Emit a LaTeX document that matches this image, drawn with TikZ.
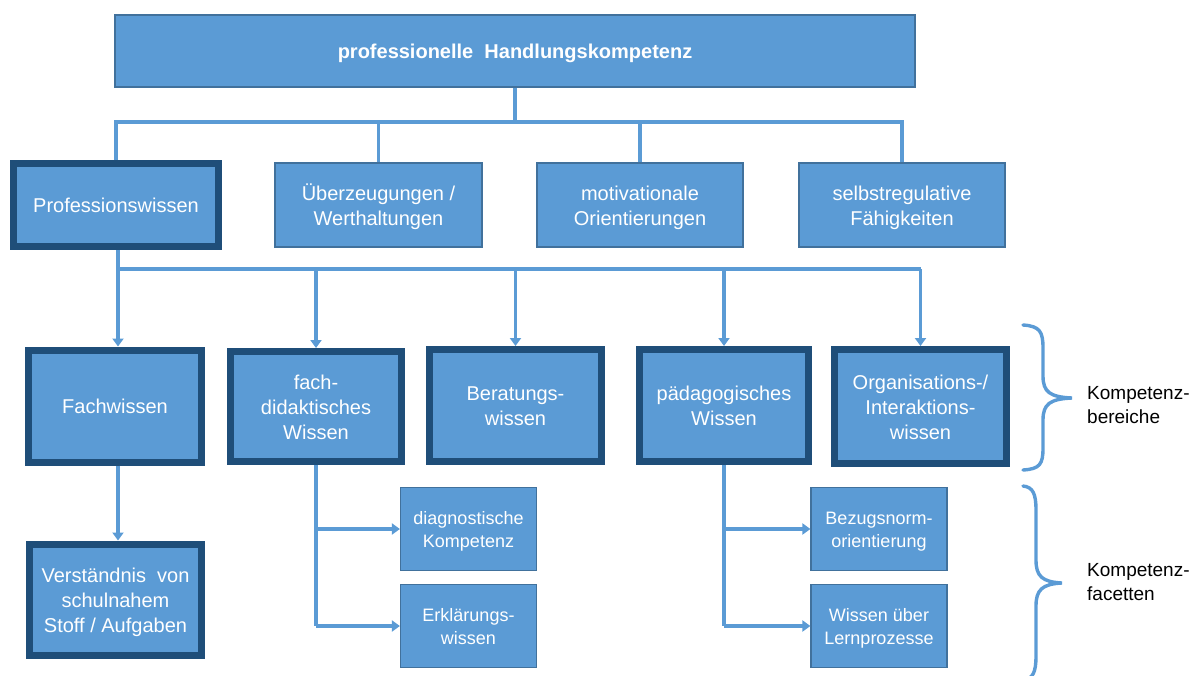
\documentclass[tikz,border=0pt]{standalone}
\usepackage{fontspec}
\setmainfont{Liberation Sans}
\usetikzlibrary{arrows.meta}
\definecolor{boxblue}{HTML}{5B9BD5}
\definecolor{boxedge}{HTML}{41719C}
\definecolor{darkedge}{HTML}{1F4E79}
\definecolor{linkblue}{HTML}{5B9BD5}
% line struts: every text line gets the same height and depth
\newcommand\Ln{\rule[-5pt]{0pt}{25pt}}
\newcommand\Ls{\rule[-5pt]{0pt}{23.5pt}}
\tikzset{
  basebox/.style={rectangle, fill=boxblue, text=white, align=center, inner sep=0pt,
    font=\fontsize{20}{25}\selectfont},
  plainbox/.style={basebox, draw=boxedge, line width=1.2pt},
  thickbox/.style={basebox, draw=darkedge, line width=7pt},
  smallbox/.style={plainbox, font=\fontsize{18}{23.5}\selectfont,
    minimum width=136pt, minimum height=83pt},
  conn/.style={draw=linkblue, line width=3.6pt},
  arr/.style={conn, -{Triangle[width=11pt,length=8pt]}},
  bracket/.style={draw=linkblue, line width=3.4pt, line cap=round},
  sidelabel/.style={anchor=west, align=left, inner sep=0pt,
    font=\fontsize{19}{24}\selectfont}
}
\begin{document}
\begin{tikzpicture}[x=1pt, y=-1pt]
\useasboundingbox (0,0) rectangle (1197,675);
\begin{scope}
\clip (0,0) rectangle (1197,675);

% top level
\node[plainbox, minimum width=800pt, minimum height=72pt,
      font=\fontsize{20}{25}\selectfont\bfseries] (top) at (515,51)
  {\Ln professionelle\ \ Handlungskompetenz};

% second row
\node[thickbox, minimum width=205pt, minimum height=83pt] (pw) at (116,205) {\Ln Professionswissen};
\node[plainbox, minimum width=207pt, minimum height=84pt] (ub) at (378.5,205) {\Ln Überzeugungen /\\\Ln Werthaltungen};
\node[plainbox, minimum width=206pt, minimum height=84pt] (mo) at (640,205) {\Ln motivationale\\\Ln Orientierungen};
\node[plainbox, minimum width=206pt, minimum height=84pt] (sr) at (902,205) {\Ln selbstregulative\\\Ln Fähigkeiten};

% third row: Kompetenzbereiche
\node[thickbox, minimum width=173pt, minimum height=112pt] (fw) at (115,406) {\Ln Fachwissen};
\node[thickbox, minimum width=171pt, minimum height=110pt] (fd) at (316,406.5) {\Ln fach-\\\Ln didaktisches\\\Ln Wissen};
\node[thickbox, minimum width=172pt, minimum height=112pt] (bw) at (515.5,405.5) {\Ln Beratungs-\\\Ln wissen};
\node[thickbox, minimum width=169pt, minimum height=112pt] (pa) at (724,405.5) {\Ln pädagogisches\\\Ln Wissen};
\node[thickbox, minimum width=172pt, minimum height=114pt] (ow) at (920.5,406.5) {\Ln Organisations-/\\\Ln Interaktions-\\\Ln wissen};

% fourth row: Kompetenzfacetten
\node[thickbox, minimum width=172pt, minimum height=111pt] (vs) at (115.5,599.5) {\Ln Verständnis\ \ von\\\Ln schulnahem\\\Ln Stoff / Aufgaben};
\node[smallbox] (dk) at (468.5,529) {\Ls diagnostische\\\Ls Kompetenz};
\node[smallbox] (ew) at (468.5,626) {\Ls Erklärungs-\\\Ls wissen};
\node[smallbox] (bn) at (879,529) {\Ls Bezugsnorm-\\\Ls orientierung};
\node[smallbox] (lp) at (879,626) {\Ls Wissen über\\\Ls Lernprozesse};

% connectors from the top box
\coordinate (j1) at (515,122);
\draw[conn] (top.south) -- (j1);
\draw[conn] (pw.north) -- (pw.north |- j1) -- (sr.north |- j1) -- (sr.north);
\draw[conn] (ub.north |- j1) -- (ub.north);
\draw[conn] (mo.north |- j1) -- (mo.north);

% connectors from Professionswissen
\coordinate (j2) at (118,269);
\draw[conn] (pw.south -| j2) -- (j2) -- (ow.north |- j2);
\draw[arr] (j2) -- (j2 |- fw.north);
\draw[arr] (fd.north |- j2) -- (fd.north);
\draw[arr] (bw.north |- j2) -- (bw.north);
\draw[arr] (pa.north |- j2) -- (pa.north);
\draw[arr] (ow.north |- j2) -- (ow.north);

% Fachwissen to Verständnis
\draw[arr] (fw.south -| j2) -- (vs.north -| j2);

% facets of fachdidaktisches Wissen
\draw[conn] (fd.south) -- (fd.south |- ew.west);
\draw[arr] (fd.south |- dk.west) -- (dk.west);
\draw[arr] (fd.south |- ew.west) -- (ew.west);

% facets of pädagogisches Wissen
\draw[conn] (pa.south) -- (pa.south |- lp.west);
\draw[arr] (pa.south |- bn.west) -- (bn.west);
\draw[arr] (pa.south |- lp.west) -- (lp.west);

% curly brackets
\draw[bracket] (1023,325) .. controls (1040,326) and (1043,332) .. (1043,348)
  -- (1043,376) .. controls (1043,392) and (1050,397) .. (1072,398)
  .. controls (1050,399) and (1043,404) .. (1043,420)
  -- (1043,448) .. controls (1043,464) and (1040,469) .. (1023,470);
\draw[bracket] (1023,486) .. controls (1033,487) and (1036,494) .. (1036,510)
  -- (1036,560) .. controls (1036,576) and (1042,582) .. (1062,583)
  .. controls (1042,584) and (1036,590) .. (1036,606)
  -- (1036,656) .. controls (1036,672) and (1033,679) .. (1023,680);
\end{scope}

\node[sidelabel] (kb) at (1087,405) {Kompetenz-\\bereiche};
\node[sidelabel] (kf) at (1087,582) {Kompetenz-\\facetten};
\end{tikzpicture}
\end{document}
